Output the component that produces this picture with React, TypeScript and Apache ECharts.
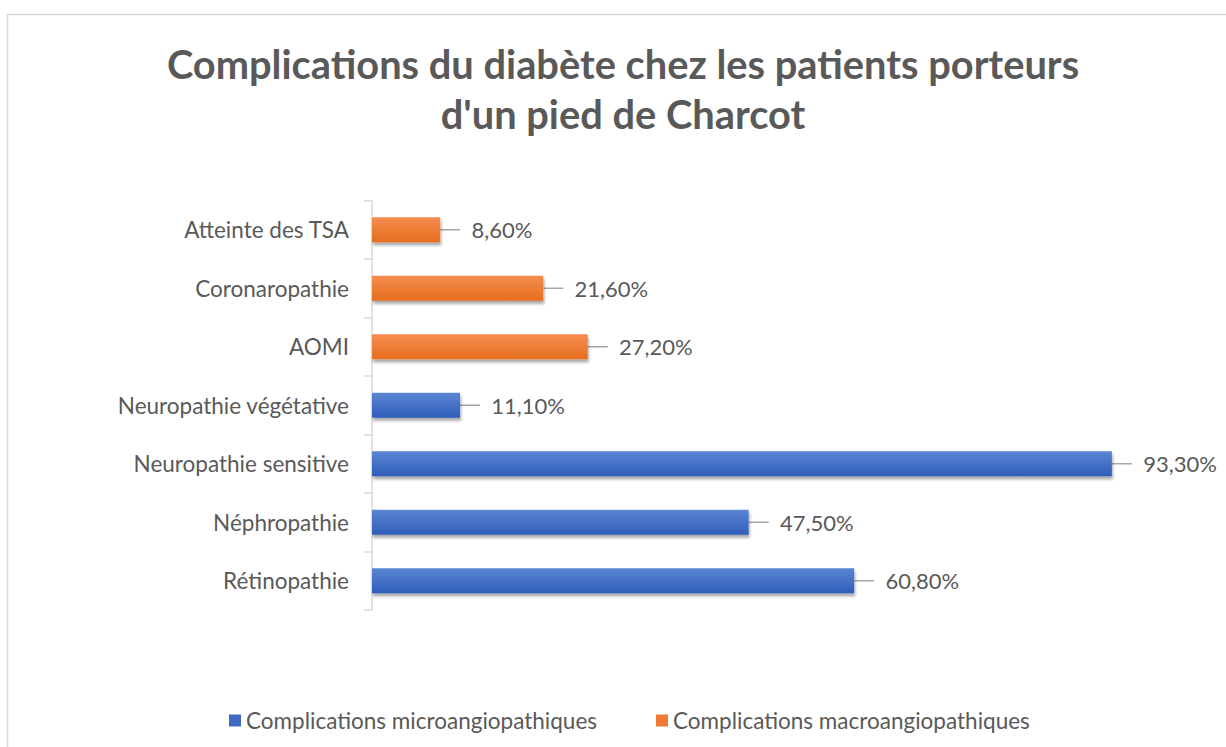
import React, { useEffect, useRef } from "react";
import * as echarts from "echarts";

const categories = [
  "Rétinopathie",
  "Néphropathie",
  "Neuropathie sensitive",
  "Neuropathie végétative",
  "AOMI",
  "Coronaropathie",
  "Atteinte des TSA",
];
const microValues = [60.8, 47.5, 93.3, 11.1, null, null, null];
const macroValues = [null, null, null, null, 27.2, 21.6, 8.6];
const seriesNames = ["Complications microangiopathiques", "Complications macroangiopathiques"];
const titleText = "Complications du diabète chez les patients porteurs\nd'un pied de Charcot";

const FONT = "Lato, 'Open Sans', sans-serif";
const GREY = "#595959";

function fmt(v: number) {
  return "  " + v.toFixed(2).replace(".", ",") + "%";
}

export default function App() {
  const ref = useRef<HTMLDivElement>(null);
  useEffect(() => {
    if (!ref.current) return;
    const chart = echarts.init(ref.current, undefined, { renderer: "svg" });
    const blue = new echarts.graphic.LinearGradient(0, 0, 0, 1, [
      { offset: 0, color: "#5B86D3" },
      { offset: 1, color: "#2E5DB9" },
    ]);
    const orange = new echarts.graphic.LinearGradient(0, 0, 0, 1, [
      { offset: 0, color: "#F58D50" },
      { offset: 1, color: "#E66D1E" },
    ]);
    const mkSeries = (name: string, data: (number | null)[], color: any) => ({
      name,
      type: "bar",
      stack: "all",
      barWidth: 25,
      data: data.map((v) => (v === null ? "-" : v)),
      itemStyle: {
        color,
        shadowColor: "rgba(0,0,0,0.35)",
        shadowBlur: 3,
        shadowOffsetX: 1,
        shadowOffsetY: 3,
      },
      label: {
        show: true,
        position: "right",
        distance: 0,
        color: GREY,
        fontSize: 22,
        fontFamily: FONT,
        formatter: (p: any) => fmt(p.value),
      },
      labelLayout: { dx: 20 },
      labelLine: { show: true, lineStyle: { color: "#A6A6A6", width: 1.5 } },
      emphasis: { disabled: true },
    });
    chart.setOption({
      animation: false,
      legend: {
        left: 224,
        top: 704,
        icon: "rect",
        itemWidth: 12,
        itemHeight: 12,
        itemGap: 59,
        textStyle: { color: GREY, fontSize: 22.5, fontFamily: FONT },
        data: [
          { name: seriesNames[0], itemStyle: { color: "#3E6AC4" } },
          { name: seriesNames[1], itemStyle: { color: "#EE7A33" } },
        ],
      },
      grid: { left: 372, top: 200.5, width: 793, height: 409.5, containLabel: false },
      xAxis: { type: "value", min: 0, max: 100, show: false },
      yAxis: {
        type: "category",
        data: categories,
        axisLine: { lineStyle: { color: "#D9D9D9", width: 1.5 } },
        axisTick: { show: true, length: 8, lineStyle: { color: "#D9D9D9", width: 1.5 } },
        axisLabel: { color: GREY, fontSize: 22.5, fontFamily: FONT, margin: 23 },
        splitLine: { show: false },
      },
      graphic: [
        {
          type: "rect",
          shape: { x: 7.5, y: 14.5, width: 1400, height: 900 },
          style: { fill: "none", stroke: "#D9D9D9", lineWidth: 1.5 },
          silent: true,
          z: -1,
        },
        {
          type: "text",
          x: 623,
          y: 38,
          silent: true,
          style: {
            text: titleText,
            fill: GREY,
            fontSize: 39.8,
            fontWeight: "bold",
            fontFamily: FONT,
            lineHeight: 50,
            align: "center",
            verticalAlign: "top",
          },
        },
      ],
      series: [
        mkSeries(seriesNames[0], microValues, blue),
        mkSeries(seriesNames[1], macroValues, orange),
      ],
    });
    return () => chart.dispose();
  }, []);
  return (
    <div
      ref={ref}
      style={{ position: "absolute", left: 0, top: 0, width: 1226, height: 747, background: "#fff" }}
    />
  );
}
